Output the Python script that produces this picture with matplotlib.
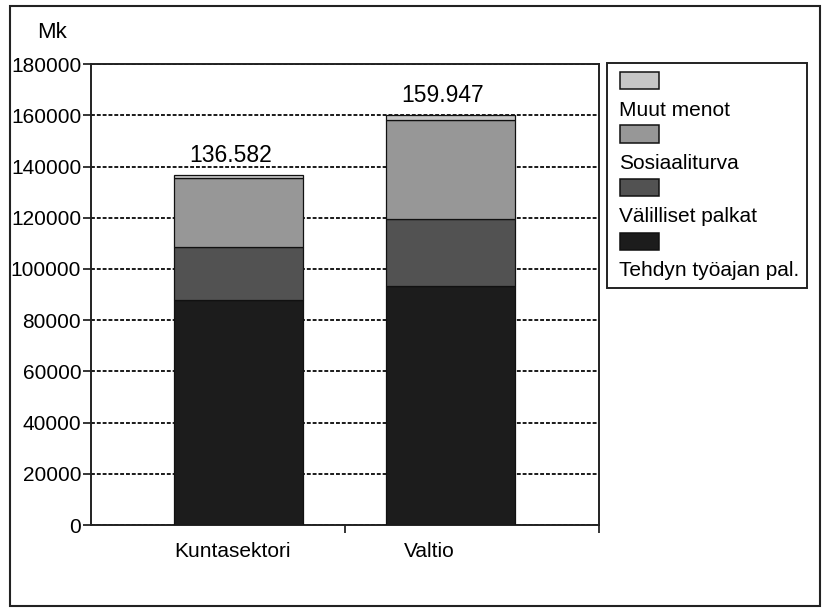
import numpy as np
import matplotlib
matplotlib.use("Agg")
import matplotlib.pyplot as plt
from matplotlib.patches import Rectangle

plt.rcParams['font.family'] = ['Liberation Sans', 'DejaVu Sans']

# data (Mk per henkilötyövuosi)
sektorit = ["Kuntasektori", "Valtio"]
tehdyn = [88000, 93500]          # Tehdyn työajan pal.
valilliset = [20500, 26000]      # Välilliset palkat
sosiaali = [27000, 38747]        # Sosiaaliturva
muut = [1082, 1700]              # Muut menot

sarjat = ["Tehdyn työajan pal.", "Välilliset palkat", "Sosiaaliturva", "Muut menot"]
arvot = [tehdyn, valilliset, sosiaali, muut]
varit = ["#1c1c1c", "#525252", "#979797", "#c6c6c6"]

fig = plt.figure(figsize=(8.27, 6.08), dpi=100)
ax = fig.add_axes([0.110, 0.1365, 0.6143, 0.758])

x = np.arange(len(sektorit))
pohja = np.zeros(len(sektorit))
for nimi, v, c in zip(sarjat, arvot, varit):
    ax.bar(x, v, width=0.605, bottom=pohja, color=c, edgecolor="#111111",
           linewidth=0.9, label=nimi, zorder=3)
    pohja += np.array(v)

# totals above bars
for xi, tot in zip(x, pohja):
    ax.annotate(f"{tot:,.0f}".replace(",", "."), (xi, tot), xytext=(-6, 6),
                textcoords="offset points", ha="center", va="bottom", fontsize=16.5)

ax.set_xlim(-0.696, 1.70)
ax.set_ylim(0, 180000)
ax.set_yticks(np.arange(0, 180001, 20000))
ax.tick_params(axis="y", direction="out", length=6, width=1.1, labelsize=15, pad=1)
ax.yaxis.grid(True, color="#1a1a1a", linestyle=(0, (2.0, 1.0)), linewidth=1.4, zorder=0)
ax.set_axisbelow(True)

# category labels sit a little left of the bar centres in the original
ax.set_xticks(x + np.array([-0.03, -0.10]))
ax.set_xticklabels(sektorit, fontsize=15)
ax.tick_params(axis="x", which="major", length=0, pad=12)
ax.set_xticks([0.5, 1.70], minor=True)
ax.tick_params(axis="x", which="minor", direction="out", length=6, width=1.1)

for s in ax.spines.values():
    s.set_linewidth(1.4)
    s.set_color("#222222")

fig.text(37 / 827, 1 - 33 / 608, "Mk", fontsize=16, ha="left", va="center")

# legend box: patch above each label
lx0, ly0, lx1, ly1 = 607, 63, 807, 288
fig.patches.append(Rectangle((lx0 / 827, 1 - ly1 / 608), (lx1 - lx0) / 827, (ly1 - ly0) / 608,
                             transform=fig.transFigure, fill=False, edgecolor="#222222",
                             linewidth=1.4))
for i, (nimi, c) in enumerate(zip(sarjat[::-1], varit[::-1])):
    py = 72 + i * 53.5
    fig.patches.append(Rectangle((620 / 827, 1 - (py + 17) / 608), 39 / 827, 17 / 608,
                                 transform=fig.transFigure, facecolor=c,
                                 edgecolor="#111111", linewidth=1.1))
    fig.text(619 / 827, 1 - (py + 38) / 608, nimi, fontsize=15, ha="left", va="center")

# outer frame
fig.patches.append(Rectangle((10 / 827, 2 / 608), 810 / 827, 600 / 608,
                             transform=fig.transFigure, fill=False, edgecolor="#222222",
                             linewidth=1.5))

fig.savefig("out.png", dpi=100)
